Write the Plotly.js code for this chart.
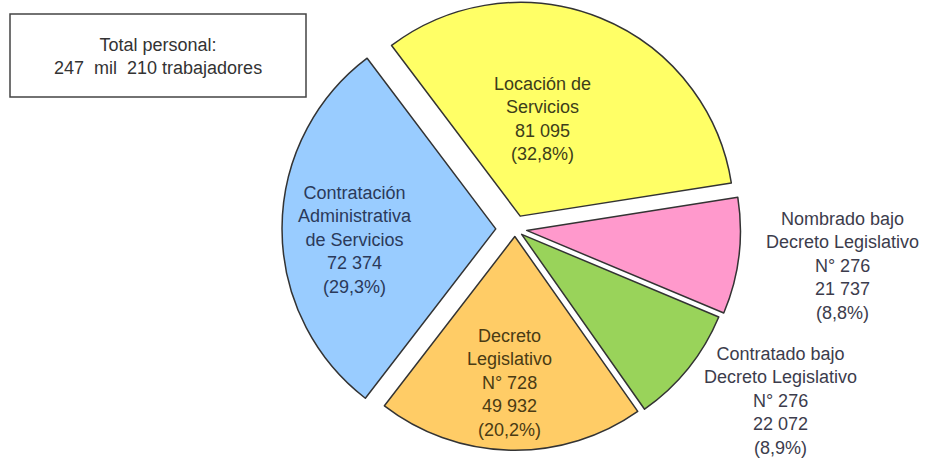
<!DOCTYPE html>
<html>
<head>
<meta charset="utf-8">
<script src="https://cdn.plot.ly/plotly-3.0.1.min.js"></script>
<style>
  html, body { margin: 0; padding: 0; background: #ffffff; overflow: hidden; }
  #chart { width: 925px; height: 466px; margin-top: -4px; }
</style>
</head>
<body>
<div id="chart"></div>
<script>
// ---- data ----
const categorias = [
  "Locación de Servicios",
  "Nombrado bajo Decreto Legislativo N° 276",
  "Contratado bajo Decreto Legislativo N° 276",
  "Decreto Legislativo N° 728",
  "Contratación Administrativa de Servicios"
];
const etiquetas = [
  "Locación de<br>Servicios",
  "Nombrado bajo<br>Decreto Legislativo<br>N° 276",
  "Contratado bajo<br>Decreto Legislativo<br>N° 276",
  "Decreto<br>Legislativo<br>N° 728",
  "Contratación<br>Administrativa<br>de Servicios"
];
const trabajadores = [81095, 21737, 22072, 49932, 72374];
const porcentajes = ["32,8%", "8,8%", "8,9%", "20,2%", "29,3%"];
const totalTexto = ["Total personal:", "247\u00A0 mil\u00A0 210 trabajadores"];

// ---- styles / positions ----
const colores = ["#FFFF66", "#FF99CC", "#99D35A", "#FFCC66", "#99CCFF"];
const coloresTexto = ["#3d3d1a", "#3c3c4c", "#3c3c4c", "#4a3b14", "#2b3a5a"];
const separacion = [0.065, 0.055, 0.04, 0.035, 0.09];
const etiquetaX = [542, 842, 780, 509, 355];   // label centres, screen px
const etiquetaY = [119, 266, 401, 383, 240];
const fuente = "Liberation Sans, Arial, sans-serif";
const tam = 18;
const W = 925, H = 466, off = 4;  // page is shifted up by 4px

function miles(n) {
  return String(n).replace(/\B(?=(\d{3})+(?!\d))/g, " ");
}

const textos = etiquetas.map((e, i) =>
  e + "<br>" + miles(trabajadores[i]) + "<br>(" + porcentajes[i] + ")"
);

const trace = {
  type: "pie",
  labels: categorias,
  values: trabajadores,
  text: textos,
  textinfo: "none",
  hoverinfo: "label+value+percent",
  sort: false,
  direction: "clockwise",
  rotation: -37,
  pull: separacion,
  marker: { colors: colores, line: { color: "#333333", width: 1.5 } },
  domain: { x: [0.3049, 0.8086], y: [0, 1] },
  automargin: false
};

const anotaciones = textos.map((t, i) => ({
  xref: "paper", yref: "paper",
  x: etiquetaX[i] / W, y: 1 - (etiquetaY[i] + off) / H,
  xanchor: "center", yanchor: "middle",
  text: t, showarrow: false, align: "center",
  font: { family: fuente, size: tam, color: coloresTexto[i] }
}));

anotaciones.push({
  xref: "paper", yref: "paper",
  x: 158 / W, y: 1 - (57 + off) / H,
  xanchor: "center", yanchor: "middle",
  text: totalTexto.join("<br>"),
  showarrow: false, align: "center",
  font: { family: fuente, size: tam, color: "#333333" }
});

const layout = {
  width: W,
  height: H,
  margin: { l: 0, r: 0, t: 0, b: 0 },
  paper_bgcolor: "#ffffff",
  plot_bgcolor: "#ffffff",
  showlegend: false,
  font: { family: fuente, size: tam, color: "#333333" },
  shapes: [{
    type: "rect", xref: "paper", yref: "paper",
    x0: 10 / W, x1: 306 / W, y0: 1 - (97 + off) / H, y1: 1 - (14 + off) / H,
    line: { color: "#444444", width: 1.5 }, fillcolor: "#ffffff"
  }],
  annotations: anotaciones
};

Plotly.newPlot("chart", [trace], layout, { displayModeBar: false, staticPlot: true });
</script>
</body>
</html>
